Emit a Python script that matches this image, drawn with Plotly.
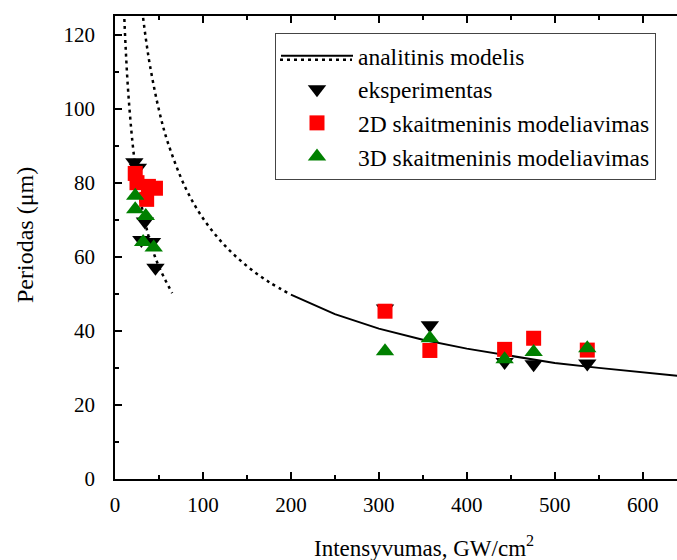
import plotly.graph_objects as go

# Analytic model (solid part)
model_I = [200, 250, 300, 350, 400, 450, 500, 550, 600, 650]
model_P = [49.8, 44.5, 40.6, 37.6, 35.2, 33.2, 31.3, 30.0, 28.7, 27.6]

# Analytic model (dotted parts)
dotA_I = [10, 12, 15, 20, 25, 30, 40, 50, 65]
dotA_P = [128, 117, 104.6, 90.6, 81, 74, 64, 57.3, 50.2]
dotB_I = [31, 35, 40, 50, 60, 80, 100, 125, 150, 175, 200]
dotB_P = [126.4, 119, 111.3, 99.6, 90.9, 78.7, 70.4, 63, 57.5, 53.2, 49.8]

# Experiment
exp_I = [22, 26, 34, 30, 42, 46, 307, 358, 443, 476, 537]
exp_P = [85.5, 84, 69.5, 64.5, 64, 57, 46, 41.5, 31.6, 31, 31.2]

# 2D simulation
sim2_I = [23, 25, 36, 38, 46, 307, 358, 443, 476, 537]
sim2_P = [82.5, 80, 75.5, 79, 78.5, 45.3, 34.7, 35, 38, 34.8]

# 3D simulation
sim3_I = [23, 23, 35, 32, 44, 307, 358, 443, 476, 537]
sim3_P = [76.5, 72.8, 71, 64, 62.5, 34.5, 38, 32.3, 34.3, 35.3]

x_ticks = [0, 100, 200, 300, 400, 500, 600]
y_ticks = [0, 20, 40, 60, 80, 100, 120]

FONT = "Liberation Serif, Times New Roman, serif"

fig = go.Figure()
fig.add_trace(go.Scatter(x=model_I, y=model_P, mode="lines", name="analitinis modelis",
                         line=dict(color="black", width=2), legend="legend"))
fig.add_trace(go.Scatter(x=dotA_I, y=dotA_P, mode="lines", showlegend=False,
                         line=dict(color="black", width=2.5, dash="3px,4px", shape="spline")))
fig.add_trace(go.Scatter(x=dotB_I, y=dotB_P, mode="lines", name="\u200b",
                         line=dict(color="black", width=2.5, dash="3px,4px", shape="spline"),
                         legend="legend2"))
fig.add_trace(go.Scatter(x=exp_I, y=exp_P, mode="markers", name="eksperimentas",
                         marker=dict(symbol="triangle-down", size=16, color="black"), legend="legend"))
fig.add_trace(go.Scatter(x=sim2_I, y=sim2_P, mode="markers", name="2D skaitmeninis modeliavimas",
                         marker=dict(symbol="square", size=15, color="#ff0000"), legend="legend"))
fig.add_trace(go.Scatter(x=sim3_I, y=sim3_P, mode="markers", name="3D skaitmeninis modeliavimas",
                         marker=dict(symbol="triangle-up", size=16, color="#008000"), legend="legend"))

L, T, B = 115, 16, 81
W, H = 677, 560
pw, ph = W - L, H - T - B

def px(xp):
    return (xp - L) / pw

def py(yp):
    return (H - B - yp) / ph

fig.update_layout(
    width=W, height=H,
    margin=dict(l=L, r=0, t=T, b=B, pad=0),
    paper_bgcolor="white", plot_bgcolor="white",
    font=dict(family=FONT, size=21, color="black"),
    xaxis=dict(range=[0, 639], tickvals=x_ticks, ticks="inside", ticklen=7, tickwidth=1.5,
               tickcolor="black", showline=True, linecolor="black", linewidth=1.5,
               mirror="ticks", showgrid=False, zeroline=False,
               minor=dict(dtick=50, ticks="inside", ticklen=4, tickwidth=1.5, tickcolor="black"),
               ticklabelstandoff=6),
    yaxis=dict(range=[0, 125], tickvals=y_ticks, ticks="inside", ticklen=7, tickwidth=1.5,
               tickcolor="black", showline=True, linecolor="black", linewidth=1.5,
               showgrid=False, zeroline=False,
               minor=dict(dtick=10, ticks="inside", ticklen=4, tickwidth=1.5, tickcolor="black"),
               ticklabelstandoff=14),
    legend=dict(x=px(275), y=py(33), xanchor="left", yanchor="top",
                bgcolor="rgba(255,255,255,0)", bordercolor="#444", borderwidth=1,
                font=dict(family=FONT, size=23.5), itemwidth=72, tracegroupgap=0),
    legend2=dict(x=px(275), y=py(38), xanchor="left", yanchor="top",
                 bgcolor="rgba(0,0,0,0)", borderwidth=0,
                 font=dict(family=FONT, size=23.5), itemwidth=72),
    showlegend=True,
    annotations=[
        dict(text="Intensyvumas, GW/cm<sup>2</sup>", xref="paper", yref="paper",
             x=px(424), y=py(546), xanchor="center", yanchor="middle", showarrow=False,
             font=dict(family=FONT, size=23)),
        dict(text="Periodas (μm)", xref="paper", yref="paper", textangle=-90,
             x=px(25), y=py(235), xanchor="center", yanchor="middle", showarrow=False,
             font=dict(family=FONT, size=24)),
    ],
)

fig.write_html("out.html")
